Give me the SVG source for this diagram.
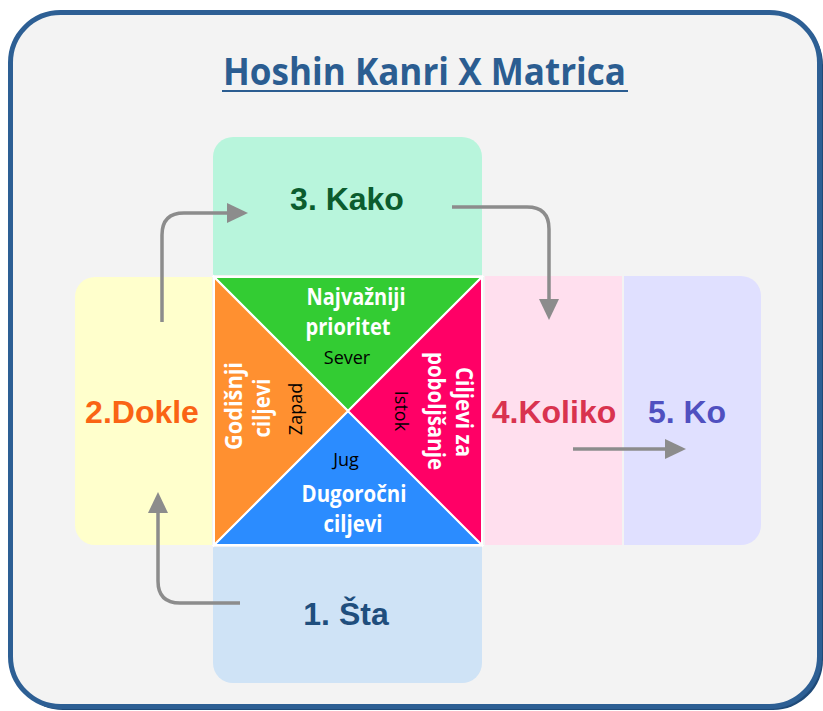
<svg xmlns="http://www.w3.org/2000/svg" width="823" height="711" viewBox="0 0 823 711">
<style>
.big{font-family:"Liberation Sans",Arial,sans-serif;font-weight:bold;font-size:32px;text-anchor:middle}
.wl{font-family:"Open Sans","DejaVu Sans",sans-serif;font-weight:bold;font-size:23px;fill:#ffffff;text-anchor:middle}
.bl{font-family:"Open Sans","DejaVu Sans",sans-serif;font-size:18px;fill:#000000;text-anchor:middle}
.arr{fill:none;stroke:#8c8c8c;stroke-width:3.5}
.tri{stroke:#ffffff;stroke-width:2;stroke-linejoin:miter}
</style>
<defs>
<marker id="ah" markerUnits="userSpaceOnUse" markerWidth="22" markerHeight="22" refX="0" refY="10" orient="auto" viewBox="0 0 22 22">
<path d="M0,0 L21,10 L0,20 Z" fill="#8c8c8c"/>
</marker>
</defs>
<rect x="0" y="0" width="823" height="711" fill="#ffffff"/>
<g id="frame">
<rect x="13" y="15" width="810" height="695" rx="50" fill="#1f4a78"/>
<rect x="10.5" y="12.5" width="809" height="694" rx="50" fill="#f3f3f3" stroke="#2d5f94" stroke-width="5"/>
</g>
<g id="title">
<text x="223" y="85" font-family="'Open Sans','DejaVu Sans',sans-serif" font-weight="bold" font-size="38" fill="#2b5d91" textLength="403" lengthAdjust="spacingAndGlyphs">Hoshin Kanri X Matrica</text>
<line x1="222" y1="91" x2="628" y2="91" stroke="#2b5d91" stroke-width="2"/>
</g>
<g id="node-kako">
<path d="M213,275 V157 A20,20 0 0 1 233,137 H462 A20,20 0 0 1 482,157 V275 Z" fill="#b8f5dc"/>
<text class="big" x="347" y="210" fill="#0b5c2e">3. Kako</text>
</g>
<g id="node-sta">
<path d="M213,547 H482 V663 A20,20 0 0 1 462,683 H233 A20,20 0 0 1 213,663 Z" fill="#cfe3f6"/>
<text class="big" x="346" y="625" fill="#1f4e7d">1. Šta</text>
</g>
<g id="node-dokle">
<path d="M212,277 H95 A20,20 0 0 0 75,297 V525 A20,20 0 0 0 95,545 H212 Z" fill="#ffffcc"/>
<text class="big" x="142" y="423" fill="#fa6414">2.Dokle</text>
</g>
<g id="node-koliko">
<rect x="485" y="276" width="137" height="269" fill="#ffdfee"/>
<text class="big" x="554" y="423" fill="#d9334f">4.Koliko</text>
</g>
<g id="node-ko">
<path d="M624,276 H741 A20,20 0 0 1 761,296 V525 A20,20 0 0 1 741,545 H624 Z" fill="#e0e0ff"/>
<text class="big" x="687" y="423" fill="#5050c0">5. Ko</text>
</g>
<g id="node-sever">
<polygon class="tri" points="214,277 482,277 348,411" fill="#33cc33"/>
<text class="wl" x="356" y="305" textLength="99" lengthAdjust="spacingAndGlyphs">Najvažniji</text>
<text class="wl" x="348" y="335" textLength="85" lengthAdjust="spacingAndGlyphs">prioritet</text>
<text class="bl" x="347" y="364">Sever</text>
</g>
<g id="node-jug">
<polygon class="tri" points="214,545 482,545 348,411" fill="#2b8cff"/>
<text class="bl" x="346" y="466">Jug</text>
<text class="wl" x="354" y="502" textLength="105" lengthAdjust="spacingAndGlyphs">Dugoročni</text>
<text class="wl" x="353" y="532" textLength="59" lengthAdjust="spacingAndGlyphs">ciljevi</text>
</g>
<g id="node-zapad">
<polygon class="tri" points="214,277 214,545 348,411" fill="#ff9030"/>
<text class="wl" transform="translate(242,406) rotate(-90)" textLength="88" lengthAdjust="spacingAndGlyphs">Godišnji</text>
<text class="wl" transform="translate(270,408) rotate(-90)" textLength="59" lengthAdjust="spacingAndGlyphs">ciljevi</text>
<text class="bl" transform="translate(302,409) rotate(-90)">Zapad</text>
</g>
<g id="node-istok">
<polygon class="tri" points="482,277 482,545 348,411" fill="#ff0066"/>
<text class="wl" transform="translate(456,412) rotate(90)" textLength="90" lengthAdjust="spacingAndGlyphs">Ciljevi za</text>
<text class="wl" transform="translate(428,411) rotate(90)" textLength="118" lengthAdjust="spacingAndGlyphs">poboljšanje</text>
<text class="bl" transform="translate(395,411) rotate(90)">Istok</text>
</g>
<g id="connectors">
<path class="arr" d="M240,603 H180 Q158,603 158,581 V513" marker-end="url(#ah)"/>
<path class="arr" d="M162,322 V235 Q162,213 184,213 H227" marker-end="url(#ah)"/>
<path class="arr" d="M452,207 H527 Q549,207 549,229 V299" marker-end="url(#ah)"/>
<path class="arr" d="M573,449 H665" marker-end="url(#ah)"/>
</g>
</svg>
